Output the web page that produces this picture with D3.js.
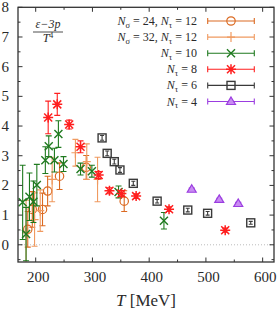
<!DOCTYPE html>
<html>
<head>
<meta charset="utf-8">
<script src="https://cdn.jsdelivr.net/npm/d3@7"></script>
<style>
body { margin: 0; background: #fff; }
text { font-family: "Liberation Serif", "DejaVu Serif", serif; fill: #2a2a2a; }
</style>
</head>
<body>
<svg id="chart" width="279" height="313"></svg>
<script>
// N_sigma=24, N_tau=12 (circles)
var t24 = [186, 194, 212, 221, 242, 289, 356];
var e24 = [0.52, 1.19, 1.19, 1.81, 2.31, 2.61, 1.47];
var d24 = [0.6, 0.6, 0.55, 0.5, 0.45, 0.4, 0.35];
// N_sigma=32, N_tau=12 (plus)
var t32 = [183, 198, 208, 229, 270, 290, 309];
var e32 = [0.4, 0.85, 1.15, 2.2, 3.1, 2.8, 2.2];
var d32 = [1.1, 0.9, 0.7, 0.75, 0.45, 0.6, 0.75];
// N_tau=10
var t10 = [177, 183, 189, 196, 202, 217, 223, 233, 240, 249, 279, 299, 346, 426];
var e10 = [1.43, 0.36, 1.62, 1.45, 2.01, 2.85, 3.32, 2.85, 3.73, 2.72, 2.55, 2.48, 1.78, 0.81];
var d10 = [1.25, 0.9, 0.8, 0.7, 0.7, 0.45, 0.35, 0.4, 0.45, 0.25, 0.2, 0.2, 0.2, 0.28];
// N_tau=8
var t8 = [222, 238, 259, 279, 311, 330, 351, 377, 435, 534];
var e8 = [4.29, 4.73, 4.05, 3.30, 2.35, 1.82, 1.73, 1.64, 1.20, 0.49];
var d8 = [0.55, 0.37, 0.15, 0.2, 0.12, 0.1, 0.1, 0.08, 0.08, 0.07];
// N_tau=6
var t6 = [317, 326, 338.5, 348.5, 372, 414, 468, 503, 579];
var e6 = [3.6, 3.08, 2.80, 2.52, 2.07, 1.47, 1.17, 1.06, 0.74];
var d6 = [0.08, 0.08, 0.08, 0.08, 0.07, 0.06, 0.06, 0.06, 0.05];
// N_tau=4
var t4 = [475, 523.5, 557];
var e4 = [1.87, 1.53, 1.39];
var d4 = [0.04, 0.04, 0.04];

var xTicks = [200, 300, 400, 500, 600];
var yTicks = [0, 1, 2, 3, 4, 5, 6, 7, 8];

var series = [
  {t: t24, e: e24, d: d24, color: "#db6a22", sym: "circle", lab: [["σ", " = 24, "], ["τ", " = 12"]]},
  {t: t32, e: e32, d: d32, color: "#f09a60", sym: "plus", lab: [["σ", " = 32, "], ["τ", " = 12"]]},
  {t: t10, e: e10, d: d10, color: "#1f7a1f", sym: "x", lab: [["τ", " = 10"]]},
  {t: t8, e: e8, d: d8, color: "#ff1f1f", sym: "star", lab: [["τ", " = 8"]]},
  {t: t6, e: e6, d: d6, color: "#3a3a3a", sym: "square", lab: [["τ", " = 6"]]},
  {t: t4, e: e4, d: d4, color: "#9b3de0", sym: "triangle", lab: [["τ", " = 4"]]}
];

var svg = d3.select("#chart");
var pLeft = 18, pRight = 274, pTop = 7.3, pBottom = 262;
var x = d3.scaleLinear().domain([168.8, 620]).range([pLeft, pRight]);
var y = d3.scaleLinear().domain([-0.58, 8]).range([pBottom, pTop]);

function marker(g, sym, cx, cy, color) {
  var s = 4;
  if (sym == "circle") {
    g.append("circle").attr("cx", cx).attr("cy", cy).attr("r", 4.2)
      .attr("fill", "none").attr("stroke", color).attr("stroke-width", 1.2);
  } else if (sym == "plus") {
    g.append("path").attr("d", "M" + (cx - 4) + "," + cy + "h8M" + cx + "," + (cy - 5) + "v10")
      .attr("stroke", color).attr("stroke-width", 1.2);
  } else if (sym == "x") {
    g.append("path").attr("d", "M" + (cx - s) + "," + (cy - s) + "l8,8M" + (cx - s) + "," + (cy + s) + "l8,-8")
      .attr("stroke", color).attr("stroke-width", 1.4);
  } else if (sym == "star") {
    g.append("path").attr("d", "M" + (cx - s) + "," + (cy - s) + "l8,8M" + (cx - s) + "," + (cy + s) + "l8,-8M" + (cx - 5) + "," + cy + "h10M" + cx + "," + (cy - 5) + "v10")
      .attr("stroke", color).attr("stroke-width", 1.5);
  } else if (sym == "square") {
    g.append("rect").attr("x", cx - 4).attr("y", cy - 4).attr("width", 8).attr("height", 8)
      .attr("fill", "none").attr("stroke", color).attr("stroke-width", 1.4);
  } else if (sym == "triangle") {
    g.append("path").attr("d", "M" + cx + "," + (cy - 4.5) + "L" + (cx + 4.5) + "," + (cy + 3) + "L" + (cx - 4.5) + "," + (cy + 3) + "Z")
      .attr("fill", "#c98cf2").attr("stroke", color).attr("stroke-width", 1.2);
  }
}

// zero line
svg.append("line").attr("x1", pLeft).attr("x2", pRight).attr("y1", y(0)).attr("y2", y(0))
  .attr("stroke", "#aaa").attr("stroke-width", 0.8).attr("stroke-dasharray", "1,2");

// data
var plot = svg.append("g");
series.forEach(function (s) {
  var g = plot.append("g");
  for (var i = 0; i < s.t.length; i++) {
    var cx = x(s.t[i]), cy = y(s.e[i]);
    var y1 = Math.min(y(s.e[i] - s.d[i]), pBottom), y2 = y(s.e[i] + s.d[i]);
    var cw = s.sym == "square" ? 2 : 3;
    g.append("path")
      .attr("d", "M" + cx + "," + y1 + "V" + y2 + "M" + (cx - cw) + "," + y2 + "h" + 2 * cw + (y1 < pBottom ? "M" + (cx - cw) + "," + y1 + "h" + 2 * cw : ""))
      .attr("stroke", s.color).attr("stroke-width", 1.1).attr("fill", "none");
    marker(g, s.sym, cx, cy, s.color);
  }
});

// frame
svg.append("rect").attr("x", pLeft).attr("y", pTop).attr("width", pRight - pLeft).attr("height", pBottom - pTop)
  .attr("fill", "none").attr("stroke", "#333").attr("stroke-width", 1.3);

// ticks
var ax = svg.append("g").attr("stroke", "#333").attr("stroke-width", 1);
d3.range(200, 620, 50).forEach(function (v) {
  var len = v % 100 == 0 ? 4.5 : 2.5;
  ax.append("line").attr("x1", x(v)).attr("x2", x(v)).attr("y1", pBottom).attr("y2", pBottom - len);
  ax.append("line").attr("x1", x(v)).attr("x2", x(v)).attr("y1", pTop).attr("y2", pTop + len);
});
d3.range(-0.5, 8.01, 0.5).forEach(function (v) {
  var len = v % 1 == 0 ? 4.5 : 2.5;
  ax.append("line").attr("y1", y(v)).attr("y2", y(v)).attr("x1", pLeft).attr("x2", pLeft + len);
  ax.append("line").attr("y1", y(v)).attr("y2", y(v)).attr("x1", pRight).attr("x2", pRight - len);
});

svg.selectAll(".xl").data(xTicks).enter().append("text")
  .attr("x", function (d) { return x(d) + 2.5; }).attr("y", pBottom + 20)
  .attr("text-anchor", "middle").attr("font-size", 15).text(function (d) { return d; });
svg.selectAll(".yl").data(yTicks).enter().append("text")
  .attr("x", 9).attr("y", function (d) { return y(d) + 5; })
  .attr("text-anchor", "end").attr("font-size", 15).text(function (d) { return d; });

// axis title
var xt = svg.append("text").attr("x", 146).attr("y", 306).attr("text-anchor", "middle").attr("font-size", 17);
xt.append("tspan").attr("font-style", "italic").text("T");
xt.append("tspan").text(" [MeV]");

// y label as fraction
var fr = svg.append("g");
fr.append("text").attr("x", 48).attr("y", 28).attr("text-anchor", "middle").attr("font-size", 12)
  .attr("font-style", "italic").text("ε−3p");
fr.append("line").attr("x1", 33).attr("x2", 63).attr("y1", 32).attr("y2", 32).attr("stroke", "#222").attr("stroke-width", 0.8);
var den = fr.append("text").attr("x", 48).attr("y", 42).attr("text-anchor", "middle").attr("font-size", 12);
den.append("tspan").attr("font-style", "italic").text("T");
den.append("tspan").attr("dy", -4).attr("font-size", 8).text("4");

// legend
var lg = svg.append("g");
series.forEach(function (s, i) {
  var ly = 21 + i * 16.1;
  lg.append("path").attr("d", "M207.7," + ly + "H254.3M207.7," + (ly - 3) + "v6M254.3," + (ly - 3) + "v6")
    .attr("stroke", s.color).attr("stroke-width", 1.1);
  marker(lg, s.sym, 231, ly, s.color);
  var tx = lg.append("text").attr("x", 197).attr("y", ly + 4).attr("text-anchor", "end").attr("font-size", 12);
  s.lab.forEach(function (p) {
    tx.append("tspan").attr("font-style", "italic").text("N");
    tx.append("tspan").attr("font-size", 8.5).attr("dy", 2.5).text(p[0]);
    tx.append("tspan").attr("dy", -2.5).text(p[1]);
  });
});
</script>
</body>
</html>
